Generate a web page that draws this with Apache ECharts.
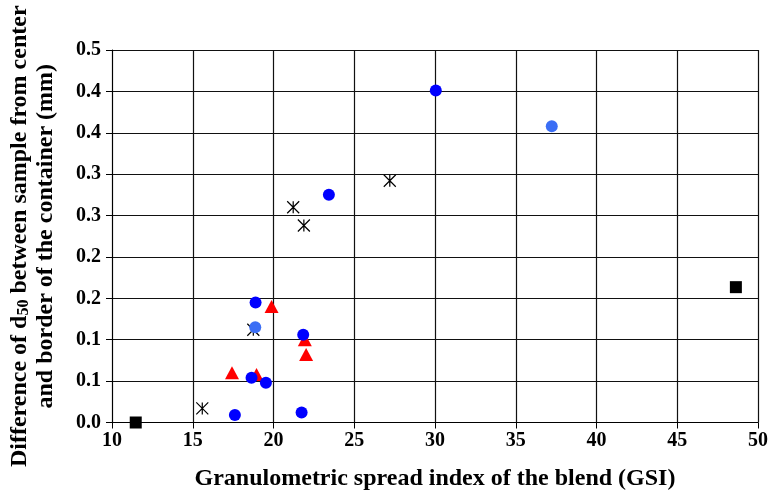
<!DOCTYPE html>
<html><head><meta charset="utf-8">
<script src="https://cdn.jsdelivr.net/npm/echarts@6/dist/echarts.min.js"></script>
<style>html,body{margin:0;padding:0;background:#fff}#c{width:771px;height:494px}</style>
</head><body><div id="c"></div>
<script>
const blueCircles = [[30.05,0.401],[23.43,0.275],[18.89,0.145],[21.84,0.106],[18.64,0.054],[19.53,0.048],[17.61,0.009],[21.74,0.012]];
const lightBlueCircles = [[37.23,0.358],[18.87,0.115]];
const redTriangles = [[19.88,0.140],[21.94,0.100],[22.02,0.082],[17.43,0.060],[18.95,0.058]];
const stars = [[21.22,0.260],[21.88,0.238],[27.20,0.292],[18.75,0.112],[15.59,0.017]];
const squares = [[11.47,0.0],[48.63,0.1635]];
const xTickLabels = ['10','15','20','25','30','35','40','45','50'];
const yTickLabels = ['0.0','0.1','0.1','0.2','0.2','0.3','0.3','0.4','0.4','0.5'];

const font = '"Liberation Serif","Times New Roman",serif';
const chart = echarts.init(document.getElementById('c'));
const starPath = 'path://M0,0L10,10M10,0L0,10M5,0L5,10';
chart.setOption({
  animation:false,
  grid:{left:112,right:13,top:50,bottom:71.5,show:false,containLabel:false,outerBoundsMode:'none'},
  xAxis:{type:'value',min:10,max:50,interval:5,
    name:'Granulometric spread index of the blend (GSI)',nameLocation:'middle',nameGap:44,
    nameTextStyle:{fontFamily:font,fontWeight:'bold',fontSize:24,color:'#000'},
    axisLine:{show:true,lineStyle:{color:'#000',width:1}},
    axisTick:{show:true,length:6,lineStyle:{color:'#000'}},
    axisLabel:{fontFamily:font,fontWeight:'bold',fontSize:20,color:'#000',margin:8,
      formatter:v=>xTickLabels[Math.round((v-10)/5)]},
    splitLine:{show:true,lineStyle:{color:'#111',width:1.2}}},
  yAxis:{type:'value',min:0,max:0.45,interval:0.05,
    name:'{a|Difference of d}{s|50}{a| between sample from center}\n{a|and border of the container (mm)}',
    nameLocation:'middle',nameGap:53,nameRotate:90,
    nameTextStyle:{fontFamily:font,fontWeight:'bold',fontSize:24,color:'#000',lineHeight:26,
      rich:{a:{fontFamily:font,fontWeight:'bold',fontSize:24,color:'#000',lineHeight:26},
            s:{fontFamily:font,fontWeight:'bold',fontSize:16,color:'#000',lineHeight:26,padding:[8,0,0,0]}}},
    axisLine:{show:true,lineStyle:{color:'#000',width:1}},
    axisTick:{show:true,length:6,lineStyle:{color:'#000'}},
    axisLabel:{fontFamily:font,fontWeight:'bold',fontSize:20,color:'#000',margin:11,
      formatter:v=>yTickLabels[Math.round(v/0.05)]},
    splitLine:{show:true,lineStyle:{color:'#111',width:1.2}}},
  series:[
    {type:'scatter',data:squares,symbol:'rect',symbolSize:12,itemStyle:{color:'#000',opacity:1}},
    {type:'scatter',data:stars,symbol:starPath,symbolSize:12,itemStyle:{color:'none',borderColor:'#000',borderWidth:1.2,opacity:1}},
    {type:'scatter',data:redTriangles,symbol:'triangle',symbolSize:[14,13],itemStyle:{color:'#ff0000',opacity:1}},
    {type:'scatter',data:lightBlueCircles,symbol:'circle',symbolSize:12,itemStyle:{color:'#3b6ef5',opacity:1}},
    {type:'scatter',data:blueCircles,symbol:'circle',symbolSize:12,itemStyle:{color:'#0000ff',opacity:1}}
  ]
});
</script></body></html>
